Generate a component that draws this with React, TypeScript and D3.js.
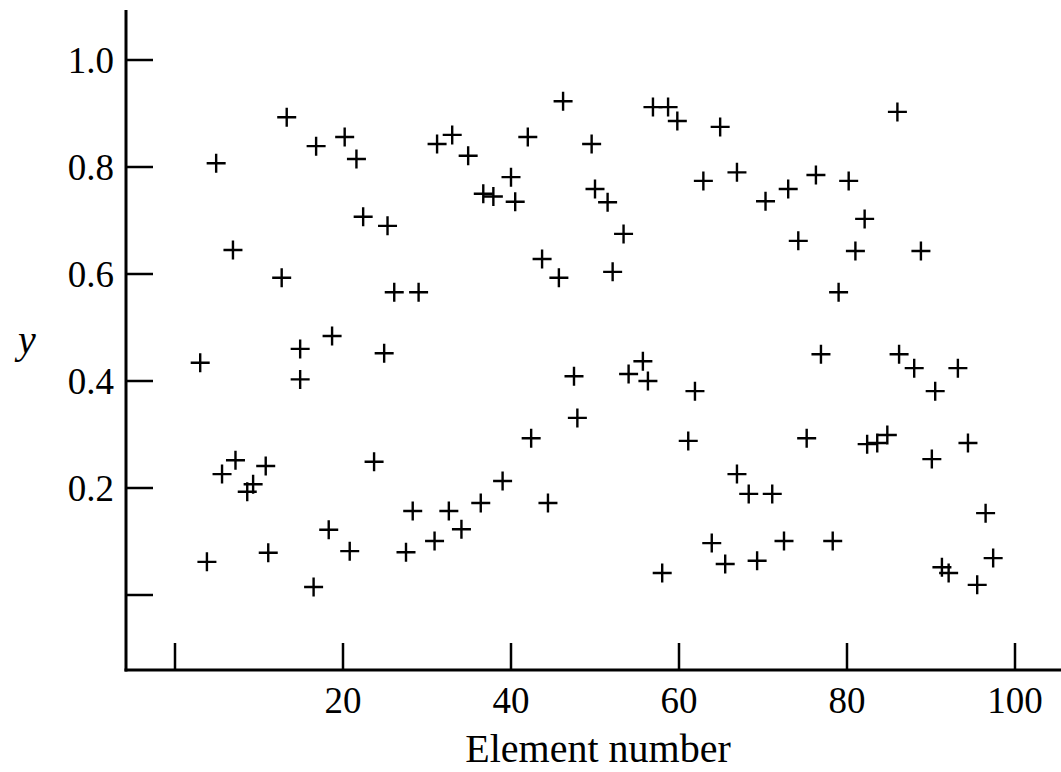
import React from "react";
import * as d3 from "d3";

// element numbers and y values
const elementNumbers = [
  3.0, 3.8, 4.9, 5.6, 6.9, 7.2, 8.6, 9.3, 10.8, 11.1,
  12.7, 13.3, 14.9, 14.9, 16.8, 16.5, 18.3, 18.7, 20.2, 20.8,
  21.6, 22.4, 23.7, 25.3, 24.9, 26.1, 27.5, 28.3, 29.0, 30.9,
  31.2, 33.0, 32.6, 34.1, 34.9, 36.4, 36.7, 37.9, 39.0, 40.0,
  40.5, 42.0, 42.4, 43.7, 44.4, 45.7, 46.2, 47.5, 47.9, 49.6,
  50.0, 51.5, 52.1, 53.4, 54.0, 55.7, 56.3, 56.9, 58.0, 58.7,
  59.8, 61.1, 61.9, 62.9, 63.9, 64.9, 65.5, 66.9, 66.9, 68.3,
  69.3, 70.3, 71.1, 72.5, 73.0, 74.2, 75.2, 76.3, 76.9, 78.3,
  79.0, 80.2, 81.0, 82.1, 82.4, 83.6, 84.8, 86.0, 86.2, 88.0,
  88.8, 90.1, 90.5, 91.3, 92.1, 93.2, 94.4, 95.5, 96.5, 97.4,
];
const yValues = [
  0.434, 0.062, 0.807, 0.226, 0.645, 0.252, 0.193, 0.207, 0.241, 0.079,
  0.593, 0.893, 0.46, 0.403, 0.839, 0.015, 0.122, 0.484, 0.856, 0.082,
  0.815, 0.707, 0.249, 0.69, 0.452, 0.566, 0.08, 0.157, 0.566, 0.101,
  0.843, 0.86, 0.157, 0.123, 0.821, 0.172, 0.75, 0.745, 0.213, 0.781,
  0.735, 0.856, 0.293, 0.628, 0.172, 0.593, 0.923, 0.409, 0.331, 0.843,
  0.759, 0.734, 0.604, 0.675, 0.413, 0.437, 0.4, 0.912, 0.041, 0.912,
  0.886, 0.288, 0.381, 0.774, 0.097, 0.875, 0.058, 0.79, 0.226, 0.189,
  0.064, 0.736, 0.189, 0.101, 0.759, 0.662, 0.293, 0.785, 0.45, 0.101,
  0.566, 0.774, 0.643, 0.703, 0.282, 0.284, 0.299, 0.903, 0.45, 0.424,
  0.643, 0.254, 0.381, 0.052, 0.041, 0.424, 0.284, 0.019, 0.153, 0.069,
];
const xTicks = [0, 20, 40, 60, 80, 100];
const yTicks = [0, 0.2, 0.4, 0.6, 0.8, 1.0];

const width = 1061;
const height = 772;
const axisLeft = 126;
const axisBottom = 670;
const axisTop = 10;
const tickLen = 27;
const font = "'Liberation Serif', 'Times New Roman', serif";

const App = () => {
  const x = d3.scaleLinear().domain([0, 100]).range([175, 1015]);
  const y = d3.scaleLinear().domain([0, 1]).range([595, 60]);
  const arm = 9.5;

  return (
    <svg
      width={width}
      height={height}
      style={{ position: "absolute", left: 0, top: 0, background: "#fff" }}
    >
      {/* axes */}
      <line x1={axisLeft} y1={axisTop} x2={axisLeft} y2={axisBottom + 1.5} stroke="#000" strokeWidth={3} />
      <line x1={axisLeft - 1.5} y1={axisBottom} x2={width} y2={axisBottom} stroke="#000" strokeWidth={3} />

      {xTicks.map((t) => (
        <g key={"x" + t}>
          <line x1={x(t)} x2={x(t)} y1={axisBottom} y2={axisBottom - tickLen} stroke="#000" strokeWidth={2.5} />
          {t > 0 && (
            <text x={x(t)} y={713} textAnchor="middle" fontFamily={font} fontSize={37}>
              {t}
            </text>
          )}
        </g>
      ))}

      {yTicks.map((t) => (
        <g key={"y" + t}>
          <line x1={axisLeft} x2={axisLeft + tickLen} y1={y(t)} y2={y(t)} stroke="#000" strokeWidth={2.5} />
          {t > 0 && (
            <text x={114} y={y(t) + 12.5} textAnchor="end" fontFamily={font} fontSize={37}>
              {d3.format(".1f")(t)}
            </text>
          )}
        </g>
      ))}

      <text x={598} y={762} textAnchor="middle" fontFamily={font} fontSize={40}>
        Element number
      </text>
      <text x={27} y={353} textAnchor="middle" fontFamily={font} fontSize={40} fontStyle="italic">
        y
      </text>

      {/* plus markers */}
      {elementNumbers.map((n, i) => {
        const cx = x(n);
        const cy = y(yValues[i]);
        return (
          <path
            key={i}
            d={`M${cx - arm},${cy}H${cx + arm}M${cx},${cy - arm}V${cy + arm}`}
            stroke="#000"
            strokeWidth={2.4}
            fill="none"
          />
        );
      })}
    </svg>
  );
};

export default App;
